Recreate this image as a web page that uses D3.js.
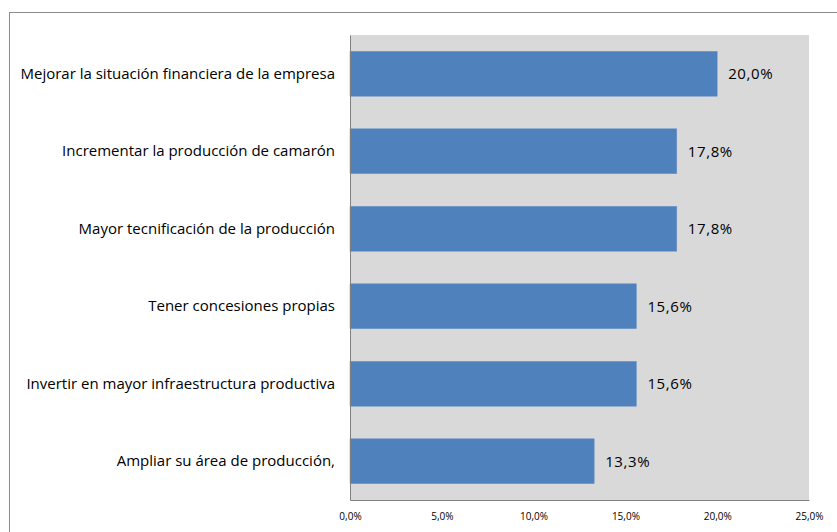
<!DOCTYPE html>
<html>
<head>
<meta charset="utf-8">
<script src="https://cdn.jsdelivr.net/npm/d3@7"></script>
<style>
body { margin: 0; background: #fff; }
text { font-family: "Open Sans", "Noto Sans", sans-serif; fill: #000; }
</style>
</head>
<body>
<div class="visHolder"></div>
<script>
var categories = [
    "Mejorar la situación financiera de la empresa",
    "Incrementar la producción de camarón",
    "Mayor tecnificación de la producción",
    "Tener concesiones propias",
    "Invertir en mayor infraestructura productiva",
    "Ampliar su área de producción,"
]
var values = [20.0, 17.8, 17.8, 15.6, 15.6, 13.3]
var tickValues = [0, 5, 10, 15, 20, 25]

var width = 837
var height = 532
// note: "top" is taken by window.top, so use plot* names
var plotLeft = 350, plotRight = 809, plotTop = 35, plotBottom = 500

var fmt = (v) => v.toFixed(1).replace(".", ",") + "%"

var svg = d3.select(".visHolder")
    .append("svg")
    .attr("width", width)
    .attr("height", height)

// outer chart border
svg.append("rect")
    .attr("x", 9.5).attr("y", 12.5)
    .attr("width", 840).attr("height", 540)
    .style("fill", "none")
    .style("stroke", "#8c8c8c")

// plot area
svg.append("rect")
    .attr("x", plotLeft).attr("y", plotTop)
    .attr("width", plotRight - plotLeft).attr("height", plotBottom - plotTop)
    .style("fill", "#d9d9d9")

var xScale = d3.scaleLinear()
    .domain([0, 25])
    .range([plotLeft, plotRight])

var yScale = d3.scaleBand()
    .domain(categories)
    .range([plotTop, plotBottom])
    .paddingInner(0.42)
    .paddingOuter(0.21)

svg.selectAll(".bar")
    .data(values)
    .enter()
    .append("rect")
    .attr("class", "bar")
    .attr("x", xScale(0))
    .attr("y", (d, i) => yScale(categories[i]))
    .attr("width", (d) => xScale(d) - xScale(0))
    .attr("height", yScale.bandwidth())
    .style("fill", "#4f81bd")
    .style("stroke", "#6f97c9")
    .style("stroke-width", 0.5)

svg.selectAll(".val")
    .data(values)
    .enter()
    .append("text")
    .attr("class", "val")
    .attr("x", (d) => xScale(d) + 11)
    .attr("y", (d, i) => yScale(categories[i]) + yScale.bandwidth() / 2)
    .attr("dy", "0.35em")
    .style("font-size", "15px")
    .style("letter-spacing", "0.6px")
    .text((d) => fmt(d))

// category axis
var yAxis = svg.append("g")
    .attr("transform", `translate(${plotLeft},0)`)
    .call(d3.axisLeft(yScale).tickSize(0).tickPadding(15))
yAxis.select(".domain").style("stroke", "#808080")
yAxis.selectAll("text")
    .style("font-size", "15px")
    .style("font-family", "\"Open Sans\", \"Noto Sans\", sans-serif")

// value axis
var xAxis = svg.append("g")
    .attr("transform", `translate(0,${plotBottom})`)
    .call(d3.axisBottom(xScale).tickValues(tickValues).tickSize(0).tickPadding(13).tickFormat(fmt))
xAxis.select(".domain").style("stroke", "#808080")
xAxis.selectAll("text")
    .style("font-size", "10px")
    .style("font-family", "\"Open Sans\", \"Noto Sans\", sans-serif")
</script>
</body>
</html>
